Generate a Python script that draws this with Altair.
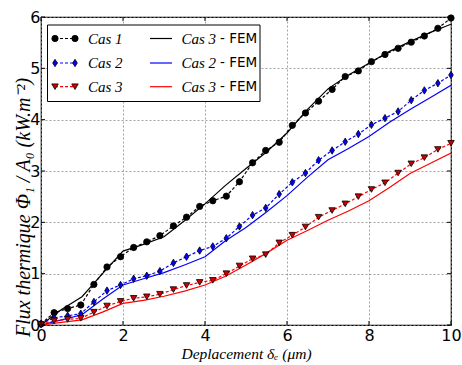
import altair as alt
import pandas as pd

# ---------------- data ----------------
x_pts = [0.0, 0.32, 0.65, 0.97, 1.29, 1.61, 1.94, 2.26, 2.58, 2.9, 3.23, 3.55,
         3.87, 4.19, 4.52, 4.84, 5.16, 5.48, 5.81, 6.13, 6.45, 6.77, 7.1, 7.42,
         7.74, 8.06, 8.39, 8.71, 9.03, 9.35, 9.68, 10.0]
cas1 = [0.02, 0.24, 0.32, 0.39, 0.79, 1.13, 1.33, 1.51, 1.62, 1.74, 1.93, 2.10,
        2.31, 2.42, 2.51, 2.79, 3.16, 3.40, 3.56, 3.89, 4.13, 4.36, 4.59, 4.84,
        4.95, 5.13, 5.27, 5.39, 5.51, 5.63, 5.78, 5.98]
cas2 = [0.02, 0.14, 0.18, 0.22, 0.45, 0.67, 0.78, 0.90, 0.96, 1.05, 1.21, 1.33,
        1.45, 1.53, 1.69, 1.92, 2.14, 2.28, 2.55, 2.78, 2.96, 3.21, 3.40, 3.57,
        3.72, 3.90, 4.03, 4.16, 4.38, 4.57, 4.71, 4.87]
cas3 = [0.01, 0.08, 0.11, 0.13, 0.25, 0.37, 0.46, 0.52, 0.55, 0.60, 0.69, 0.77,
        0.83, 0.87, 1.00, 1.15, 1.29, 1.37, 1.60, 1.75, 1.91, 2.10, 2.23, 2.36,
        2.50, 2.64, 2.77, 2.96, 3.14, 3.26, 3.42, 3.54]

x_fem = [0, 0.5, 1, 1.5, 2, 2.5, 3, 3.5, 4, 4.5, 5, 5.5, 6, 6.5, 7, 7.5, 8,
         8.5, 9, 9.5, 10]
fem1 = [0, 0.30, 0.55, 1.00, 1.44, 1.57, 1.72, 2.03, 2.36, 2.72, 3.05, 3.37,
        3.74, 4.20, 4.60, 4.87, 5.10, 5.33, 5.52, 5.70, 5.86]
fem2 = [0, 0.10, 0.20, 0.50, 0.78, 0.90, 1.02, 1.17, 1.33, 1.64, 1.90, 2.20,
        2.52, 2.88, 3.22, 3.44, 3.67, 3.95, 4.20, 4.43, 4.67]
fem3 = [0, 0.05, 0.10, 0.25, 0.42, 0.48, 0.56, 0.66, 0.78, 0.95, 1.17, 1.40,
        1.65, 1.84, 2.04, 2.22, 2.42, 2.68, 2.95, 3.15, 3.35]

x_ticks = [0, 2, 4, 6, 8, 10]
y_ticks = [0, 1, 2, 3, 4, 5, 6]

legend_left = ["Cas 1", "Cas 2", "Cas 3"]
legend_right = ["Cas 3", "Cas 2", "Cas 3"]
fem_suffix = "- FEM"
x_title = "Deplacement δₑ (μm)"
y_title = "Flux thermique Φ₁ / A₀ (kW.m⁻²)"

# ---------------- layout ----------------
W, H = 410, 308
SERIF = "Liberation Serif"
SANS = "DejaVu Sans"
colors = ["#000000", "#0000ff", "#ff0000"]
fills = ["#000000", "#0000ff", "#cc0000"]
shapes = ["circle", "M0,-1L0.62,0L0,1L-0.62,0Z", "triangle-down"]
sizes = [40, 55, 42]

xscale = alt.Scale(domain=[0, 10], nice=False, zero=False)
yscale = alt.Scale(domain=[0, 6], nice=False, zero=False)

x_axis = alt.Axis(values=x_ticks, title=x_title, labelFont=SANS, labelFontSize=16,
                  labelColor="black", labelPadding=2, ticks=False, domain=False,
                  labelFlush=False, labelOverlap=False,
                  grid=True, gridDash=[2, 2], gridColor="#8c8c8c", gridWidth=0.8,
                  titleFont=SERIF, titleFontStyle="italic", titleFontWeight="normal",
                  titleFontSize=15.5, titleColor="black", titleY=33,
                  titleBaseline="alphabetic")
y_axis = alt.Axis(values=y_ticks, title=y_title, labelFont=SANS, labelFontSize=16,
                  labelColor="black", labelPadding=1, ticks=False, domain=False,
                  labelFlush=False, labelOverlap=False,
                  grid=True, gridDash=[2, 2], gridColor="#8c8c8c", gridWidth=0.8,
                  titleFont=SERIF, titleFontStyle="italic", titleFontWeight="normal",
                  titleFontSize=20, titleColor="black", titleX=-8, titleY=190,
                  titleAngle=-90, titleBaseline="bottom", titleAlign="center")

X = alt.X("x:Q", scale=xscale, axis=x_axis)
Y = alt.Y("y:Q", scale=yscale, axis=y_axis)

layers = []
series = [cas1, cas2, cas3]
fems = [fem1, fem2, fem3]

# FEM solid lines
for i, f in enumerate(fems):
    df = pd.DataFrame({"x": x_fem, "y": f})
    layers.append(alt.Chart(df).mark_line(color=colors[i], strokeWidth=1.2,
                                          clip=True).encode(x=X, y=Y))

# experimental dashed lines
for i, s in enumerate(series):
    df = pd.DataFrame({"x": x_pts, "y": s})
    layers.append(alt.Chart(df).mark_line(color=colors[i], strokeWidth=1.2,
                                          strokeDash=[3, 2], clip=True).encode(x=X, y=Y))

# markers
for i, s in enumerate(series):
    df = pd.DataFrame({"x": x_pts, "y": s})
    layers.append(alt.Chart(df).mark_point(shape=shapes[i], size=sizes[i], filled=True,
                                           fill=fills[i], stroke="black", strokeWidth=0.8,
                                           opacity=1, clip=False).encode(x=X, y=Y))

# inside ticks on all four sides
xt = pd.DataFrame({"x": x_ticks})
yt = pd.DataFrame({"y": y_ticks})
TL = 4
layers.append(alt.Chart(xt).mark_rule(color="black", strokeWidth=1).encode(
    x=X, y=alt.value(H), y2=alt.value(H - TL)))
layers.append(alt.Chart(xt).mark_rule(color="black", strokeWidth=1).encode(
    x=X, y=alt.value(0), y2=alt.value(TL)))
layers.append(alt.Chart(yt).mark_rule(color="black", strokeWidth=1).encode(
    y=Y, x=alt.value(0), x2=alt.value(TL)))
layers.append(alt.Chart(yt).mark_rule(color="black", strokeWidth=1).encode(
    y=Y, x=alt.value(W), x2=alt.value(W - TL)))

# ---------------- legend ----------------
one = pd.DataFrame({"a": [0]})
bx0, bx1, by0, by1 = 6.5, 219, 8, 84.5
layers.append(alt.Chart(one).mark_rect(fill="white", stroke="black", strokeWidth=1).encode(
    x=alt.value(bx0), x2=alt.value(bx1), y=alt.value(by0), y2=alt.value(by1)))
row_y = [21.5, 46, 69.7]
for i in range(3):
    yy = row_y[i]
    # left column: dashed line with markers at both ends
    layers.append(alt.Chart(one).mark_rule(color=colors[i], strokeWidth=1.2,
                                           strokeDash=[3, 2]).encode(
        x=alt.value(14), x2=alt.value(34), y=alt.value(yy)))
    for xx in (14, 34):
        layers.append(alt.Chart(one).mark_point(shape=shapes[i], size=sizes[i], filled=True,
                                                fill=fills[i], stroke="black",
                                                strokeWidth=0.8, opacity=1).encode(
            x=alt.value(xx), y=alt.value(yy)))
    layers.append(alt.Chart(one).mark_text(text=legend_left[i], font=SERIF,
                                           fontStyle="italic", fontSize=15, align="left",
                                           baseline="middle", color="black").encode(
        x=alt.value(47), y=alt.value(yy)))
    # right column: solid line
    layers.append(alt.Chart(one).mark_rule(color=colors[i], strokeWidth=1.2).encode(
        x=alt.value(109), x2=alt.value(131), y=alt.value(yy)))
    layers.append(alt.Chart(one).mark_text(text=legend_right[i], font=SERIF,
                                           fontStyle="italic", fontSize=15, align="left",
                                           baseline="middle", color="black").encode(
        x=alt.value(140.5), y=alt.value(yy)))
    layers.append(alt.Chart(one).mark_text(text=fem_suffix, font=SANS, fontSize=13.5,
                                           align="left", baseline="middle",
                                           color="black").encode(
        x=alt.value(179), y=alt.value(yy)))

chart = alt.layer(*layers).properties(
    width=W, height=H,
    autosize=alt.AutoSizeParams(type="none"),
    padding={"left": 41, "top": 17, "right": 11, "bottom": 40},
    background="white",
).configure_view(stroke="black", strokeWidth=1.2)

chart.save("out.html", embed_options={"renderer": "svg", "actions": False})
